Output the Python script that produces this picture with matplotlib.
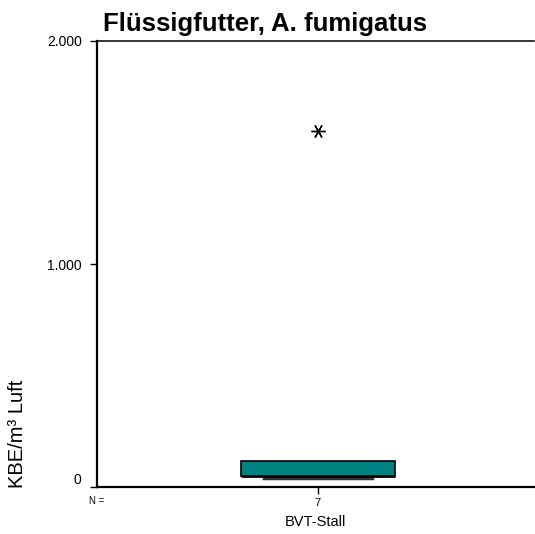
import matplotlib
matplotlib.use("Agg")
import matplotlib.pyplot as plt
import matplotlib.transforms as mtransforms

plt.rcParams['font.family'] = ['Liberation Sans', 'DejaVu Sans']

# Boxplot-Kennwerte (KBE/m³ Luft)
gruppen = ["BVT-Stall"]
n_werte = [7]
q1 = [50]
median = [50]
q3 = [117]
whisker_unten = [40]
whisker_oben = [117]
ausreisser = [[1596]]
y_ticks = [0, 1000, 2000]
y_tick_labels = ["0", "1.000", "2.000"]

fig = plt.figure(figsize=(5.35, 5.34), dpi=100)
ax = fig.add_axes([97/535, 1 - 487/534, 437/535, 446/534])

stats = []
for i in range(len(gruppen)):
    stats.append({
        "label": str(n_werte[i]),
        "q1": q1[i], "med": median[i], "q3": q3[i],
        "whislo": whisker_unten[i], "whishi": whisker_oben[i],
        "fliers": ausreisser[i],
    })

teile = ax.bxp(stats, positions=[1], widths=0.70, patch_artist=True,
               boxprops=dict(facecolor="#008282", edgecolor="black", linewidth=1.2),
               medianprops=dict(color="black", linewidth=2),
               whiskerprops=dict(color="black", linewidth=1),
               capprops=dict(color="#333333", linewidth=2.5),
               capwidths=0.49,
               flierprops=dict(marker=(6, 2, 90), markersize=10,
                               markeredgecolor="black", markeredgewidth=1.0,
                               linestyle="none"))
# oberer Whisker fällt mit der Boxkante zusammen
teile["caps"][1].set_visible(False)

ax.set_xlim(0, 1.978)
ax.set_ylim(0, 2000)
ax.set_yticks(y_ticks)
ax.set_yticklabels(y_tick_labels, fontsize=10)
ax.tick_params(axis="y", length=5, width=1, pad=6)
ax.tick_params(axis="x", length=5, width=1, labelsize=8, pad=3)

# "0" etwas angehoben
verschiebung = mtransforms.ScaledTranslation(0, 8/100, fig.dpi_scale_trans)
lbl0 = ax.get_yticklabels()[0]
lbl0.set_transform(lbl0.get_transform() + verschiebung)

ax.spines["right"].set_visible(False)
for s in ["left", "bottom"]:
    ax.spines[s].set_linewidth(1.6)
ax.spines["top"].set_linewidth(1.1)

fig.text(315/535, 1 - 522/534, "BVT-Stall", fontsize=10.5, ha="center", va="center")
fig.text(97/535, 1 - 501/534, "N =", fontsize=7, ha="center", va="center")
fig.text(18/535, 1 - 488/534, "KBE/m³ Luft", fontsize=14.5, rotation=90,
         ha="center", va="bottom")
fig.text(103/535, 1 - 24/534, "Flüssigfutter, A. fumigatus", fontsize=18.5,
         fontweight="bold", ha="left", va="center")

fig.savefig("out.png", dpi=100)
